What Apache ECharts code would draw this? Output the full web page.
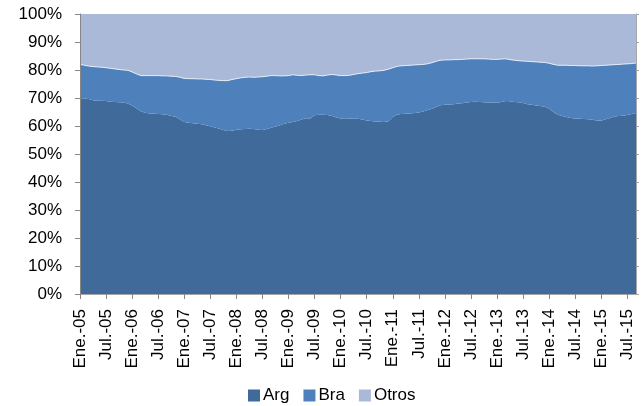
<!DOCTYPE html>
<html>
<head>
<meta charset="utf-8">
<script src="https://cdn.jsdelivr.net/npm/echarts@6/dist/echarts.min.js"></script>
<style>html,body{margin:0;padding:0;background:#fff}#c{width:642px;height:406px}</style>
</head>
<body>
<div id="c"></div>
<script>
var monthNames = ['Ene.','Feb.','Mar.','Abr.','May.','Jun.','Jul.','Ago.','Sep.','Oct.','Nov.','Dic.'];
var firstYear = 2005, monthCount = 129;
var categories = [];
for (var k = 0; k < monthCount; k++) {
  var yy = String((firstYear + Math.floor(k / 12)) % 100);
  if (yy.length < 2) yy = '0' + yy;
  categories.push(monthNames[k % 12] + '-' + yy);
}
var yTicks = [0,10,20,30,40,50,60,70,80,90,100];

var arg = [70.0,69.8,69.6,69.2,69.0,69.0,68.9,68.7,68.6,68.5,
68.4,68.0,67.3,66.3,65.3,64.7,64.5,64.4,64.3,64.2,
64.0,63.6,63.3,62.4,61.4,61.2,61.0,60.8,60.6,60.3,
59.9,59.5,59.1,58.6,58.2,58.3,58.7,58.8,58.9,59.0,
58.9,58.7,58.6,58.9,59.4,59.8,60.3,60.8,61.2,61.4,
61.8,62.3,62.8,62.7,63.8,64.0,64.0,63.9,63.6,63.0,
62.7,62.8,62.7,62.6,62.6,62.3,62.0,61.8,61.6,61.5,
61.4,61.7,63.2,64.1,64.3,64.4,64.5,64.6,64.8,65.2,
65.7,66.2,66.8,67.4,67.6,67.7,67.8,68.0,68.1,68.4,
68.6,68.7,68.6,68.5,68.4,68.3,68.3,68.6,68.9,68.8,
68.6,68.5,68.2,67.8,67.6,67.3,67.1,66.9,66.2,65.0,
64.0,63.6,63.2,62.9,62.7,62.6,62.5,62.4,62.2,62.0,
61.9,62.4,62.9,63.4,63.6,63.7,63.9,64.3,64.6];

var bra = [12.0,11.9,11.8,12.0,12.1,12.0,11.9,11.9,11.8,11.7,
11.6,11.9,12.0,12.3,12.7,13.3,13.5,13.6,13.7,13.7,
13.9,14.2,14.4,15.0,15.6,15.7,15.9,16.0,16.2,16.4,
16.7,16.9,17.2,17.6,18.0,18.3,18.2,18.4,18.5,18.5,
18.5,18.8,19.0,18.9,18.6,18.2,17.6,17.1,16.8,16.9,
16.3,15.7,15.4,15.6,14.5,14.0,13.9,14.3,14.8,15.2,
15.3,15.2,15.4,15.8,16.1,16.6,17.1,17.6,18.0,18.2,
18.5,18.6,17.6,17.2,17.2,17.2,17.2,17.2,17.1,16.8,
16.5,16.4,16.3,16.1,16.0,15.9,15.9,15.7,15.7,15.5,
15.4,15.3,15.4,15.5,15.5,15.5,15.5,15.3,15.1,14.9,
14.9,14.8,15.0,15.3,15.4,15.6,15.7,15.8,16.2,17.0,
17.7,18.1,18.5,18.7,18.9,18.9,19.0,19.1,19.2,19.5,
19.7,19.3,18.9,18.5,18.4,18.4,18.3,18.0,17.9];

var otros = [18.0,18.3,18.6,18.8,18.9,19.0,19.2,19.4,19.6,19.8,
20.0,20.1,20.7,21.4,22.0,22.0,22.0,22.0,22.0,22.1,
22.1,22.2,22.3,22.6,23.0,23.1,23.1,23.2,23.2,23.3,
23.4,23.6,23.7,23.8,23.8,23.4,23.1,22.8,22.6,22.5,
22.6,22.5,22.4,22.2,22.0,22.0,22.1,22.1,22.0,21.7,
21.9,22.0,21.8,21.7,21.7,22.0,22.1,21.8,21.6,21.8,
22.0,22.0,21.9,21.6,21.3,21.1,20.9,20.6,20.4,20.3,
20.1,19.7,19.2,18.7,18.5,18.4,18.3,18.2,18.1,18.0,
17.8,17.4,16.9,16.5,16.4,16.4,16.3,16.3,16.2,16.1,
16.0,16.0,16.0,16.0,16.1,16.2,16.2,16.1,16.0,16.3,
16.5,16.7,16.8,16.9,17.0,17.1,17.2,17.3,17.6,18.0,
18.3,18.3,18.3,18.4,18.4,18.5,18.5,18.5,18.6,18.5,
18.4,18.3,18.2,18.1,18.0,17.9,17.8,17.7,17.5];

var seriesNames = ['Arg','Bra','Otros'];

var FONT = '"Liberation Sans", Arial, sans-serif';
var AX = '#868686';
var chart = echarts.init(document.getElementById('c'), null, {renderer: 'canvas'});
chart.setOption({
  animation: false,
  backgroundColor: '#ffffff',
  grid: {left: 80, right: 6, top: 14, bottom: 112, containLabel: false},
  legend: {
    data: seriesNames,
    left: 248, top: 387, padding: 0,
    itemWidth: 12, itemHeight: 12, itemGap: 14,
    icon: 'rect',
    textStyle: {fontFamily: FONT, fontSize: 17, color: '#000', padding: [0, 0, 0, -2]}
  },
  xAxis: [{
    type: 'category',
    data: categories,
    boundaryGap: false,
    z: 10,
    axisLine: {show: true, lineStyle: {color: AX, width: 1}},
    axisTick: {show: true, interval: 5, length: 5, lineStyle: {color: AX}},
    axisLabel: {interval: 5, rotate: 90, margin: 15, fontFamily: FONT, fontSize: 17, color: '#000'},
    splitLine: {show: false}
  }, {
    type: 'category',
    data: categories,
    boundaryGap: false,
    position: 'top',
    z: 10,
    axisLine: {show: true, lineStyle: {color: '#a6a6a6', width: 1}},
    axisTick: {show: false},
    axisLabel: {show: false},
    splitLine: {show: false}
  }],
  yAxis: [{
    type: 'value',
    min: 0, max: 100, interval: 10,
    z: 10,
    axisLine: {show: true, lineStyle: {color: AX, width: 1}},
    axisTick: {show: true, length: 5, lineStyle: {color: AX}},
    axisLabel: {formatter: function (v) { return yTicks.indexOf(v) >= 0 ? v + '%' : ''; }, margin: 18, fontFamily: FONT, fontSize: 17, color: '#000'},
    splitLine: {show: false}
  }, {
    type: 'value',
    min: 0, max: 100, interval: 10,
    position: 'right',
    z: 10,
    axisLine: {show: true, lineStyle: {color: '#a6a6a6', width: 1}},
    axisTick: {show: true, length: 3, lineStyle: {color: '#a6a6a6'}},
    axisLabel: {show: false},
    splitLine: {show: false}
  }],
  series: [{
    name: 'Arg', type: 'line', stack: 'total', data: arg,
    symbol: 'none', showSymbol: false,
    itemStyle: {color: '#406A9A'},
    lineStyle: {width: 0},
    areaStyle: {color: '#406A9A', opacity: 1}
  }, {
    name: 'Bra', type: 'line', stack: 'total', data: bra,
    symbol: 'none', showSymbol: false,
    itemStyle: {color: '#4E80BC'},
    lineStyle: {width: 1, color: 'rgba(235,240,248,0.9)'},
    areaStyle: {color: '#4E80BC', opacity: 1}
  }, {
    name: 'Otros', type: 'line', stack: 'total', data: otros,
    symbol: 'none', showSymbol: false,
    itemStyle: {color: '#AAB9D7'},
    lineStyle: {width: 0},
    areaStyle: {color: '#AAB9D7', opacity: 1}
  }]
});
</script>
</body>
</html>
